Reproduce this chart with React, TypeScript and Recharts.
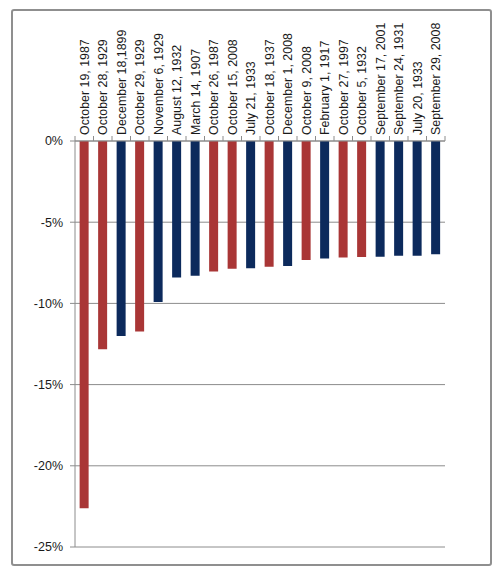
import React from "react";
import { BarChart, Bar, XAxis, YAxis, CartesianGrid, Cell } from "recharts";

const categories = [
  "October 19, 1987",
  "October 28, 1929",
  "December 18,1899",
  "October 29, 1929",
  "November 6, 1929",
  "August 12, 1932",
  "March 14, 1907",
  "October 26, 1987",
  "October 15, 2008",
  "July 21, 1933",
  "October 18, 1937",
  "December 1, 2008",
  "October 9, 2008",
  "February 1, 1917",
  "October 27, 1997",
  "October 5, 1932",
  "September 17, 2001",
  "September 24, 1931",
  "July 20, 1933",
  "September 29, 2008",
];

const declines = [
  -22.61, -12.82, -12.0, -11.73, -9.92, -8.4, -8.29, -8.04, -7.87, -7.84,
  -7.75, -7.7, -7.33, -7.24, -7.18, -7.15, -7.13, -7.07, -7.07, -6.98,
];

const groups = [
  "oct", "oct", "other", "oct", "other", "other", "other", "oct", "oct", "other",
  "oct", "other", "oct", "other", "oct", "oct", "other", "other", "other", "other",
];

const yTicks = [-25, -20, -15, -10, -5, 0];

const RED = "#A93636";
const NAVY = "#0C2A5C";
const GRID = "#8c8c8c";
const FONT = "'Liberation Sans', Arial, sans-serif";

const data = categories.map((name, i) => ({ name, value: declines[i], group: groups[i] }));

const CHART_W = 494;
const CHART_H = 567;
const MARGIN = { top: 33, right: 57, bottom: 28, left: 7 };
const Y_AXIS_W = 60;
const PLOT_W = CHART_W - MARGIN.left - MARGIN.right - Y_AXIS_W;
const HALF_BAND = PLOT_W / categories.length / 2;

const XTick = (props: any) => {
  const { x, y, payload, index } = props;
  return (
    <g>
      <line x1={x + HALF_BAND} y1={y} x2={x + HALF_BAND} y2={y - 5} stroke={GRID} />
      {index === 0 && (
        <line x1={x - HALF_BAND} y1={y} x2={x - HALF_BAND} y2={y - 5} stroke={GRID} />
      )}
      <g transform={`translate(${x},${y})`}>
        <text
          transform="rotate(-90)"
          x={6}
          y={0}
          dy="0.36em"
          textAnchor="start"
          fontSize={12.4}
          fontFamily={FONT}
          fill="#1a1a1a"
        >
          {payload.value}
        </text>
      </g>
    </g>
  );
};

export default function App() {
  return (
    <div style={{ position: "relative", width: CHART_W, height: CHART_H }}>
      <div
        style={{
          position: "absolute",
          left: 3,
          top: 1,
          width: 477,
          height: 553,
          border: "2px solid #8f8f8f",
          borderRadius: 3,
          boxSizing: "content-box",
        }}
      />
      <BarChart
        width={CHART_W}
        height={CHART_H}
        data={data}
        margin={MARGIN}
        barCategoryGap="25%"
        style={{ position: "absolute", left: 0, top: 0 }}
      >
        <CartesianGrid vertical={false} stroke={GRID} strokeWidth={1} />
        <XAxis
          dataKey="name"
          orientation="top"
          height={100}
          interval={0}
          tickLine={false}
          tickSize={0}
          tickMargin={0}
          axisLine={{ stroke: GRID }}
          tick={<XTick />}
        />
        <YAxis
          width={Y_AXIS_W}
          domain={[-25, 0]}
          ticks={yTicks}
          interval={0}
          tickFormatter={(v: number) => `${v}%`}
          tickSize={5}
          tickMargin={7}
          axisLine={{ stroke: GRID }}
          tickLine={{ stroke: GRID }}
          tick={{ fontSize: 12.5, fontFamily: FONT, fill: "#1a1a1a" }}
        />
        <Bar dataKey="value" isAnimationActive={false}>
          {data.map((d, i) => (
            <Cell key={i} fill={d.group === "oct" ? RED : NAVY} />
          ))}
        </Bar>
      </BarChart>
    </div>
  );
}
